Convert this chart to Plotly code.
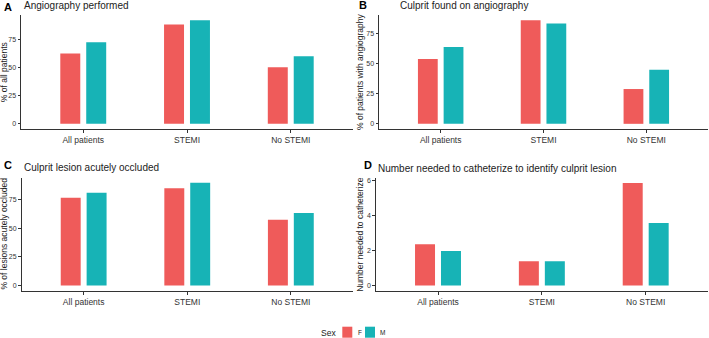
import plotly.graph_objects as go

categories = ["All patients", "STEMI", "No STEMI"]
sexes = ["F", "M"]
colors = {"F": "#EF5B5A", "M": "#17B3B6"}

a_F = [62.5, 88.4, 50.3]
a_M = [72.6, 92.2, 60.1]
b_F = [53.9, 86.1, 28.9]
b_M = [63.9, 83.3, 45.0]
c_F = [76.4, 84.7, 57.2]
c_M = [80.7, 89.6, 63.2]
d_F = [2.37, 1.39, 5.86]
d_M = [1.98, 1.39, 3.58]

panels = [
    ("A", "Angiography performed", "% of all patients", a_F, a_M, [0, 25, 50, 75]),
    ("B", "Culprit found on angiography", "% of patients with angiography", b_F, b_M, [0, 25, 50, 75]),
    ("C", "Culprit lesion acutely occluded", "% of lesions acutely occluded", c_F, c_M, [0, 25, 50, 75]),
    ("D", "Number needed to catheterize to identify culprit lesion", "Number needed to catheterize", d_F, d_M, [0, 2, 4, 6]),
]

FONT = "Liberation Sans, Arial, sans-serif"
W, H = 709, 338
# pixel boxes: (left, right, top, bottom)
boxes = [
    (21, 353, 15, 129),
    (379, 708, 15, 129),
    (21.5, 353, 177.5, 290.7),
    (375.7, 708, 178, 290.7),
]
title_pos = [(21.7, 5.5), (398, 5.5), (21.7, 167.7), (375.7, 168)]
letter_pos = [(2, 7), (357, 5), (2, 165), (362, 165)]
ytitle_x = [4.2, 360, 4.5, 360.5]

fig = go.Figure()
annotations = []
shapes = []
layout = {}
for i, (letter, title, ytitle, fv, mv, ticks) in enumerate(panels):
    n = i + 1
    xa = "x" if n == 1 else f"x{n}"
    ya = "y" if n == 1 else f"y{n}"
    for s, vals in (("F", fv), ("M", mv)):
        fig.add_trace(go.Bar(
            x=categories, y=vals, name=s, marker_color=colors[s],
            marker_line_width=0, xaxis=xa, yaxis=ya, showlegend=False,
        ))
    l, r, t, b = boxes[i]
    vmax = max(fv + mv)
    layout["xaxis" if n == 1 else f"xaxis{n}"] = dict(
        domain=[l / W, r / W], anchor=ya, range=[-0.6, 2.6],
        showline=True, linecolor="#333333", linewidth=1,
        ticks="outside", ticklen=3, tickcolor="#333333",
        showgrid=False, zeroline=False, fixedrange=True,
        tickfont=dict(family=FONT, size=8.5, color="#333333"),
    )
    layout["yaxis" if n == 1 else f"yaxis{n}"] = dict(
        domain=[1 - b / H, 1 - t / H], anchor=xa,
        range=[-0.05 * vmax, 1.05 * vmax], tickvals=ticks,
        showline=True, linecolor="#333333", linewidth=1,
        ticks="outside", ticklen=2.5, tickcolor="#333333", ticklabelstandoff=0,
        showgrid=False, zeroline=False, fixedrange=True,
        tickfont=dict(family=FONT, size=7, color="#333333"),
    )
    tx, ty = title_pos[i]
    annotations.append(dict(
        text=title, x=tx / W, y=1 - ty / H, xref="paper", yref="paper",
        xanchor="left", yanchor="middle", showarrow=False,
        font=dict(family=FONT, size=10, color="#222222"),
    ))
    lx, ly = letter_pos[i]
    annotations.append(dict(
        text=f"<b>{letter}</b>", x=lx / W, y=1 - ly / H, xref="paper", yref="paper",
        xanchor="left", yanchor="middle", showarrow=False,
        font=dict(family=FONT, size=11, color="#000000"),
    ))
    annotations.append(dict(
        text=ytitle, x=ytitle_x[i] / W, y=1 - ((t + b) / 2) / H, xref="paper", yref="paper",
        xanchor="center", yanchor="middle", textangle=-90, showarrow=False,
        font=dict(family=FONT, size=8.5, color="#222222"),
    ))

# legend (drawn manually to match the compact ggplot key layout)
annotations.append(dict(
    text="Sex", x=338 / W, y=1 - 332.5 / H, xref="paper", yref="paper",
    xanchor="right", yanchor="middle", showarrow=False,
    font=dict(family=FONT, size=8.5, color="#222222"),
))
for s, (kx, tx) in zip(sexes, [(342.3, 355.5), (365, 378)]):
    shapes.append(dict(type="rect", xref="paper", yref="paper",
                       x0=kx / W, x1=(kx + 10) / W, y0=1 - 337.7 / H, y1=1 - 326.7 / H,
                       fillcolor=colors[s], line_width=0))
    annotations.append(dict(
        text=s, x=tx / W, y=1 - 332.5 / H, xref="paper", yref="paper",
        xanchor="left", yanchor="middle", showarrow=False,
        font=dict(family=FONT, size=6.5, color="#222222"),
    ))

fig.update_layout(
    width=W, height=H, margin=dict(l=0, r=0, t=0, b=0, autoexpand=False),
    paper_bgcolor="white", plot_bgcolor="white",
    barmode="group", bargap=0.5, bargroupgap=0.23,
    annotations=annotations, shapes=shapes, showlegend=False,
    **layout,
)
fig.write_html(
    "out.html",
    config={"displayModeBar": False},
    post_script="document.body.style.margin='0px';document.body.style.padding='0px';",
)
